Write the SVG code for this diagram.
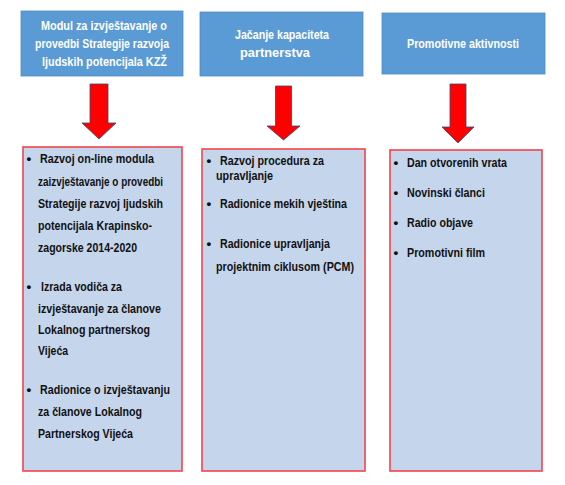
<svg xmlns="http://www.w3.org/2000/svg" width="565" height="485" viewBox="0 0 565 485">
<style>
.hdr{fill:#5b9bd5;stroke:#4f89c0;stroke-width:0.8}
.htxt{font-family:"Liberation Sans",Arial,sans-serif;font-size:13.5px;fill:#ffffff;font-weight:bold}
.body{fill:#c5d5ec;stroke:#f2444c;stroke-width:1.6}
.btxt{font-family:"Liberation Sans",Arial,sans-serif;font-size:13.5px;fill:#111111;font-weight:bold}
.arr{fill:#ff0000;stroke:#2f4a7a;stroke-width:0.8}
</style>
<rect width="565" height="485" fill="#ffffff"/>
<g id="header1">
<rect class="hdr" x="21" y="11" width="162" height="65"/>
<text class="htxt" x="41" y="30" textLength="126" lengthAdjust="spacingAndGlyphs">Modul za izvještavanje o</text>
<text class="htxt" x="35" y="48" textLength="134" lengthAdjust="spacingAndGlyphs">provedbi Strategije razvoja</text>
<text class="htxt" x="42" y="66" textLength="125" lengthAdjust="spacingAndGlyphs">ljudskih potencijala KZŽ</text>
</g>
<g id="header2">
<rect class="hdr" x="200" y="12" width="163" height="64"/>
<text class="htxt" x="235" y="39" textLength="94" lengthAdjust="spacingAndGlyphs">Jačanje kapaciteta</text>
<text class="htxt" x="240" y="57" textLength="70" lengthAdjust="spacingAndGlyphs">partnerstva</text>
</g>
<g id="header3">
<rect class="hdr" x="382" y="13" width="163" height="61"/>
<text class="htxt" x="407" y="48" textLength="112" lengthAdjust="spacingAndGlyphs">Promotivne aktivnosti</text>
</g>
<g id="connectors">
<polygon class="arr" points="90,84 108,84 108,123 116,123 99,139 82,123 90,123"/>
<polygon class="arr" points="275.5,86 291.5,86 291.5,126 300,126 283.5,140 267,126 275.5,126"/>
<polygon class="arr" points="450,84 466,84 466,127 474,127 458,143 442,127 450,127"/>
</g>
<g id="list1">
<rect class="body" x="23" y="147" width="159" height="324"/>
<text class="btxt" x="26.5" y="163">•</text>
<text class="btxt" x="40" y="163" textLength="114" lengthAdjust="spacingAndGlyphs">Razvoj on-line modula</text>
<text class="btxt" x="38" y="186" textLength="125" lengthAdjust="spacingAndGlyphs">zaizvještavanje o provedbi</text>
<text class="btxt" x="38" y="208" textLength="125" lengthAdjust="spacingAndGlyphs">Strategije razvoj ljudskih</text>
<text class="btxt" x="38" y="230" textLength="114" lengthAdjust="spacingAndGlyphs">potencijala Krapinsko-</text>
<text class="btxt" x="38" y="252" textLength="99" lengthAdjust="spacingAndGlyphs">zagorske 2014-2020</text>
<text class="btxt" x="26.5" y="291">•</text>
<text class="btxt" x="41" y="291" textLength="81" lengthAdjust="spacingAndGlyphs">Izrada vodiča za</text>
<text class="btxt" x="38" y="313" textLength="123" lengthAdjust="spacingAndGlyphs">izvještavanje za članove</text>
<text class="btxt" x="38" y="334" textLength="112" lengthAdjust="spacingAndGlyphs">Lokalnog partnerskog</text>
<text class="btxt" x="38" y="355" textLength="30" lengthAdjust="spacingAndGlyphs">Vijeća</text>
<text class="btxt" x="26.5" y="394">•</text>
<text class="btxt" x="40" y="394" textLength="130" lengthAdjust="spacingAndGlyphs">Radionice o izvještavanju</text>
<text class="btxt" x="38" y="416" textLength="104" lengthAdjust="spacingAndGlyphs">za članove Lokalnog</text>
<text class="btxt" x="38" y="438" textLength="95" lengthAdjust="spacingAndGlyphs">Partnerskog Vijeća</text>
</g>
<g id="list2">
<rect class="body" x="202" y="149" width="163" height="322"/>
<text class="btxt" x="206.5" y="165">•</text>
<text class="btxt" x="220" y="165" textLength="104" lengthAdjust="spacingAndGlyphs">Razvoj procedura za</text>
<text class="btxt" x="216" y="180" textLength="57" lengthAdjust="spacingAndGlyphs">upravljanje</text>
<text class="btxt" x="206.5" y="208">•</text>
<text class="btxt" x="220" y="208" textLength="127" lengthAdjust="spacingAndGlyphs">Radionice mekih vještina</text>
<text class="btxt" x="206.5" y="248">•</text>
<text class="btxt" x="220" y="248" textLength="110" lengthAdjust="spacingAndGlyphs">Radionice upravljanja</text>
<text class="btxt" x="216" y="271" textLength="138" lengthAdjust="spacingAndGlyphs">projektnim ciklusom (PCM)</text>
</g>
<g id="list3">
<rect class="body" x="390" y="150" width="152" height="321"/>
<text class="btxt" x="393.5" y="167">•</text>
<text class="btxt" x="407" y="167" textLength="100" lengthAdjust="spacingAndGlyphs">Dan otvorenih vrata</text>
<text class="btxt" x="393.5" y="197">•</text>
<text class="btxt" x="407" y="197" textLength="78" lengthAdjust="spacingAndGlyphs">Novinski članci</text>
<text class="btxt" x="393.5" y="227">•</text>
<text class="btxt" x="407" y="227" textLength="66" lengthAdjust="spacingAndGlyphs">Radio objave</text>
<text class="btxt" x="393.5" y="257">•</text>
<text class="btxt" x="407" y="257" textLength="78" lengthAdjust="spacingAndGlyphs">Promotivni film</text>
</g>
</svg>
